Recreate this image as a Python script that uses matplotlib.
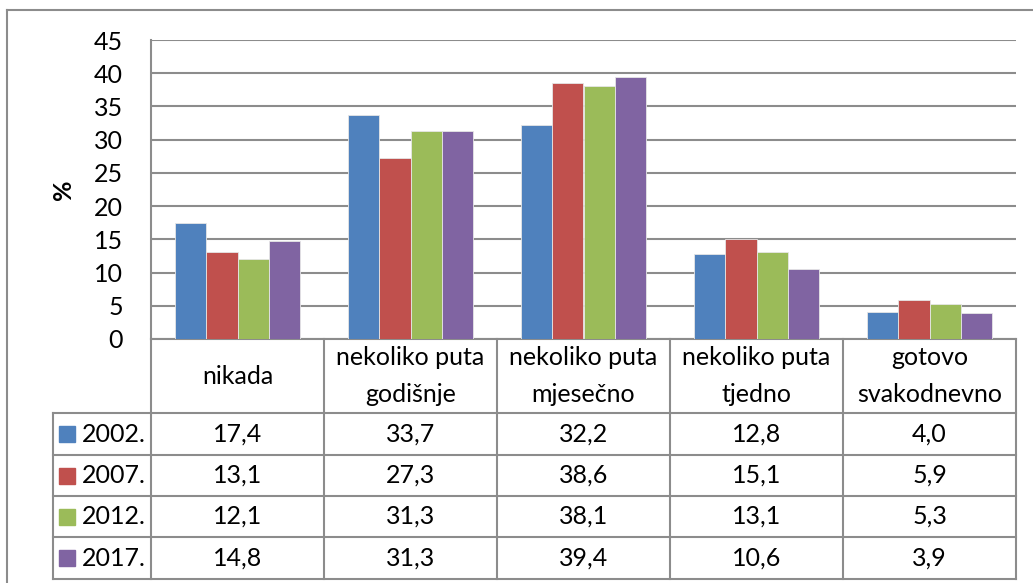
import matplotlib
matplotlib.use("Agg")
import matplotlib.pyplot as plt
import matplotlib.transforms as mtransforms
import numpy as np

# ------ data ------
categories = ["nikada", "nekoliko puta\ngodišnje", "nekoliko puta\nmjesečno",
              "nekoliko puta\ntjedno", "gotovo\nsvakodnevno"]
years = ["2002.", "2007.", "2012.", "2017."]
v2002 = [17.4, 33.7, 32.2, 12.8, 4.0]
v2007 = [13.1, 27.3, 38.6, 15.1, 5.9]
v2012 = [12.1, 31.3, 38.1, 13.1, 5.3]
v2017 = [14.8, 31.3, 39.4, 10.6, 3.9]
series = [v2002, v2007, v2012, v2017]
colors = ["#4F81BD", "#C0504D", "#9BBB59", "#8064A2"]

plt.rcParams['font.family'] = ['Lato', 'DejaVu Sans']
FS = 18
GRID = "#8C8C8C"

W, H = 1033, 583
fig = plt.figure(figsize=(W / 100, H / 100), dpi=100)

# plot area in pixels (from top-left)
px_l, px_r, px_t, px_b = 151, 1016, 40, 339
ax = fig.add_axes([px_l / W, 1 - px_b / H, (px_r - px_l) / W, (px_b - px_t) / H])

n = len(categories)
x = np.arange(n)
bw = 0.18
for i, (vals, c) in enumerate(zip(series, colors)):
    ax.bar(x + (i - 1.5) * bw, vals, bw, color=c, edgecolor="#E6E6E6",
           linewidth=0.6, zorder=3)

ax.set_xlim(-0.5, n - 0.5)
ax.set_ylim(0, 45)
ax.set_yticks(range(0, 46, 5))
ax.tick_params(axis="y", length=0, pad=20, labelsize=FS)
ax.tick_params(axis="x", length=0, labelbottom=False)
ax.grid(axis="y", color=GRID, linewidth=1.5, zorder=0)
for s in ["top", "right"]:
    ax.spines[s].set_visible(False)
for s in ["left", "bottom"]:
    ax.spines[s].set_color(GRID)
    ax.spines[s].set_linewidth(1.5)
ax.set_ylabel("%", fontsize=FS, fontweight="bold", labelpad=14)

# ------ data table under the chart ------
tr = mtransforms.blended_transform_factory(ax.transData, ax.transAxes)
ppx = px_b - px_t            # pixels per axes-fraction unit (y)
def yf(py):                  # pixel row -> axes fraction
    return (px_b - py) / ppx

head_b = 413
rows = [413, 455, 496, 537, 579]
x_leg = -0.5 - (px_l - 53) / ((px_r - px_l) / n)

lk = dict(color=GRID, linewidth=1.5, transform=tr, clip_on=False)
# horizontal lines
for r in rows:
    ax.plot([x_leg, n - 0.5], [yf(r), yf(r)], **lk)
# vertical lines
for b in np.arange(n + 1) - 0.5:
    ax.plot([b, b], [0, yf(rows[-1])], **lk)
ax.plot([x_leg, x_leg], [yf(rows[0]), yf(rows[-1])], **lk)

# category headers
for i, cat in enumerate(categories):
    ax.text(i, yf((px_b + head_b) / 2), cat, transform=tr, ha="center",
            va="center", fontsize=FS, linespacing=1.75, clip_on=False)

# value rows
for j, (yr, vals, c) in enumerate(zip(years, series, colors)):
    yc = yf((rows[j] + rows[j + 1]) / 2)
    for i, v in enumerate(vals):
        ax.text(i, yc, f"{v:.1f}".replace(".", ","), transform=tr,
                ha="center", va="center", fontsize=FS, clip_on=False)
    ax.text(x_leg + 0.165, yc, yr, transform=tr, ha="left", va="center",
            fontsize=FS, clip_on=False)
    ax.plot([x_leg + 0.08], [yc], marker="s", markersize=11, color=c,
            transform=tr, clip_on=False, linestyle="none")

# outer chart frame (partly cut off in the original)
fig.add_artist(plt.Line2D([7 / W, 7 / W], [0, 1 - 10 / H], color=GRID,
                          linewidth=1.5))
fig.add_artist(plt.Line2D([7 / W, 1], [1 - 10 / H, 1 - 10 / H], color=GRID,
                          linewidth=1.5))

fig.savefig("out.png", dpi=100)
